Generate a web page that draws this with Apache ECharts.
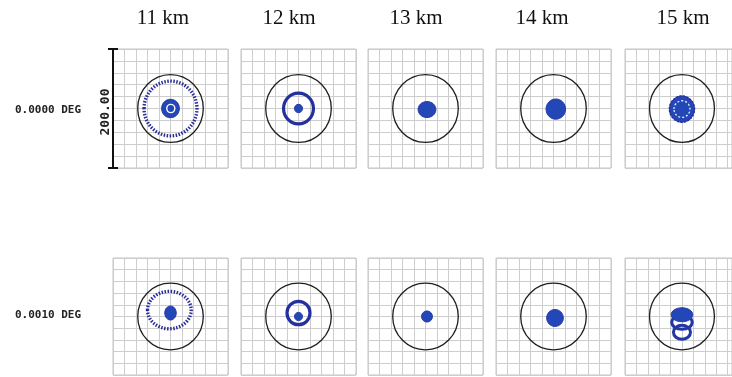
<!DOCTYPE html>
<html>
<head>
<meta charset="utf-8">
<script src="https://cdn.jsdelivr.net/npm/echarts@6/dist/echarts.min.js"></script>
<style>
  html, body { margin: 0; padding: 0; background: #ffffff; }
  #chart { width: 732px; height: 377px; }
</style>
</head>
<body>
<div id="chart"></div>
<script>
// Focus distances (columns) and field angles (rows)
const distances = ['11 km', '12 km', '13 km', '14 km', '15 km'];
const fieldAngles = ['0.0000 DEG', '0.0010 DEG'];
const scaleBarLabel = '200.00';

// Each panel spans 200 µm; Airy disc radius in µm
const panelSpan = [-100, 100];
const gridStep = 20;
const airyRadius = 57;

// Spot structures per panel: [cx, cy, rx, ry] in µm, with a matching kind list
const spotsField0 = [
  [[0, 0, 46, 46], [0, 0, 15.5, 15.5], [0.5, 0, 7, 7]],
  [[0, 0, 26, 26], [0, 0, 7, 7]],
  [[2.6, -1.7, 15.5, 13.5]],
  [[4, -1, 17, 17]],
  [[0, -1, 22, 22], [0, -1, 22, 22], [0, -1, 14, 14]]
];
const kindsField0 = [
  ['dots', 'blob', 'gap'],
  ['ring', 'blob'],
  ['blob'],
  ['blob'],
  ['blob', 'edge', 'gapDash']
];
const spotsField1 = [
  [[-2, 11, 38, 32], [0, 6, 10, 12]],
  [[0, 6, 20, 20], [0, 0, 7, 7]],
  [[2.6, 0, 9.5, 9.5]],
  [[2.6, -2.5, 14.5, 14.5]],
  [[0, -27, 15, 12], [0, -10, 18, 12], [0, 3, 19, 12]]
];
const kindsField1 = [
  ['dots', 'blob'],
  ['ring', 'blob'],
  ['blob'],
  ['blob'],
  ['arc', 'arc', 'blob']
];

const spots = [spotsField0, spotsField1];
const kinds = [kindsField0, kindsField1];

// Layout of the panel grid
const canvasWidth = 732;
const colLeft = [113, 241, 368, 496, 625];
const rowTop = [49, 258];
const rowHeight = [119, 117];
const panelWidth = 115;
const titleX = [163, 289, 416, 542, 683];
const rowLabelY = [110, 315];

const styles = {
  airy:    { fill: 'none', stroke: '#1e1e1e', lineWidth: 1.3 },
  dots:    { fill: 'none', stroke: '#2a2e98', lineWidth: 3.4, lineDash: [1.5, 1.5] },
  ring:    { fill: 'none', stroke: '#23309e', lineWidth: 3.2 },
  arc:     { fill: 'none', stroke: '#2436a6', lineWidth: 3 },
  blob:    { fill: '#2447b8', stroke: '#2a3aa8', lineWidth: 1 },
  gap:     { fill: 'none', stroke: '#ffffff', lineWidth: 1.4 },
  gapDash: { fill: 'none', stroke: '#e8ecff', lineWidth: 1.3, lineDash: [2, 2] },
  edge:    { fill: 'none', stroke: '#2b2f9c', lineWidth: 1.5, lineDash: [2, 1.5] }
};

const grids = [], xAxes = [], yAxes = [], series = [];

fieldAngles.forEach(function (field, r) {
  distances.forEach(function (dist, c) {
    const idx = r * distances.length + c;
    // the last column runs off the right edge: keep its scale, show the visible part
    const visibleWidth = Math.min(panelWidth, canvasWidth + 1 - colLeft[c]);
    const xMax = panelSpan[0] + (panelSpan[1] - panelSpan[0]) * visibleWidth / panelWidth;
    grids.push({
      left: colLeft[c], top: rowTop[r], width: visibleWidth, height: rowHeight[r],
      show: true, borderColor: '#c4c4c4', borderWidth: 1, backgroundColor: '#ffffff'
    });
    const base = {
      gridIndex: idx, type: 'value', interval: gridStep,
      axisLine: { show: false }, axisTick: { show: false }, axisLabel: { show: false },
      splitLine: { show: true, lineStyle: { color: '#cdcdcd', width: 1 } }
    };
    xAxes.push(Object.assign({}, base, { min: panelSpan[0], max: xMax }));
    const y = Object.assign({}, base, { min: panelSpan[0], max: panelSpan[1] });
    if (idx === 0) {
      // scale bar along the first panel
      y.axisLine = {
        show: true, onZero: false,
        lineStyle: { color: '#111111', width: 2 },
        symbol: ['rect', 'rect'], symbolSize: [10, 2]
      };
    }
    yAxes.push(y);

    const panelKinds = ['airy'].concat(kinds[r][c]);
    const data = [[0, 0, airyRadius, airyRadius]].concat(spots[r][c]);
    series.push({
      type: 'custom',
      xAxisIndex: idx, yAxisIndex: idx,
      encode: { x: 0, y: 1 },
      silent: true,
      data: data,
      renderItem: function (params, api) {
        const k = panelKinds[params.dataIndex];
        const p = api.coord([api.value(0), api.value(1)]);
        const s = api.size([api.value(2), api.value(3)]);
        return {
          type: 'ellipse',
          z2: params.dataIndex,
          shape: { cx: p[0], cy: p[1], rx: s[0], ry: s[1] },
          style: styles[k]
        };
      }
    });
  });
});

const graphics = [];
distances.forEach(function (d, c) {
  graphics.push({
    type: 'text', x: titleX[c], y: 18,
    style: { text: d, font: '21px "Liberation Serif"', fill: '#111111', align: 'center', verticalAlign: 'middle' }
  });
});
fieldAngles.forEach(function (f, r) {
  graphics.push({
    type: 'text', x: 48, y: rowLabelY[r],
    style: { text: f, font: 'bold 11px "DejaVu Sans Mono"', fill: '#222222', align: 'center', verticalAlign: 'middle' }
  });
});
graphics.push({
  type: 'text', x: 106, y: 112, rotation: Math.PI / 2,
  style: { text: scaleBarLabel, font: 'bold 13px "DejaVu Sans Mono"', fill: '#222222', align: 'center', verticalAlign: 'middle' }
});

const chart = echarts.init(document.getElementById('chart'), null, { renderer: 'canvas' });
chart.setOption({
  animation: false,
  backgroundColor: '#ffffff',
  grid: grids,
  xAxis: xAxes,
  yAxis: yAxes,
  series: series,
  graphic: graphics
});
</script>
</body>
</html>
